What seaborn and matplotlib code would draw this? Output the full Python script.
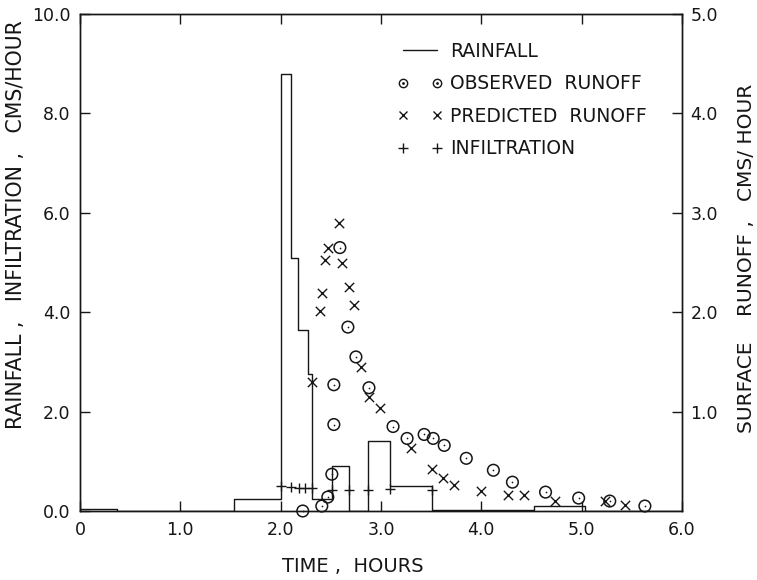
import matplotlib
matplotlib.use("Agg")
import matplotlib.pyplot as plt
import seaborn as sns
import pandas as pd
from matplotlib.lines import Line2D
from matplotlib.legend_handler import HandlerTuple

# ---- data ----
rain_t = [0, 0.37, 1.53, 2.0, 2.1, 2.17, 2.27, 2.31, 2.51, 2.68, 2.87, 3.09, 3.51, 4.52, 5.03, 6.0]
rain_v = [0.05, 0.0, 0.25, 8.8, 5.1, 3.65, 2.75, 0.25, 0.9, 0.0, 1.4, 0.5, 0.03, 0.1, 0.0, 0.0]

infil_t = [2.0, 2.1, 2.18, 2.24, 2.31, 2.51, 2.68, 2.87, 3.09, 3.51]
infil_v = [0.50, 0.48, 0.47, 0.47, 0.46, 0.43, 0.43, 0.43, 0.45, 0.43]

obs_t = [2.22, 2.41, 2.47, 2.51, 2.53, 2.53, 2.59, 2.67, 2.75, 2.88, 3.12, 3.26, 3.43,
         3.52, 3.63, 3.85, 4.12, 4.31, 4.64, 4.97, 5.28, 5.63]
obs_v = [0.0, 0.05, 0.14, 0.37, 0.87, 1.27, 2.65, 1.85, 1.55, 1.24, 0.85, 0.73, 0.77,
         0.73, 0.66, 0.53, 0.41, 0.29, 0.19, 0.13, 0.10, 0.05]

pred_t = [2.31, 2.39, 2.41, 2.44, 2.47, 2.58, 2.61, 2.68, 2.73, 2.80, 2.88, 2.99, 3.30,
          3.51, 3.62, 3.73, 4.00, 4.27, 4.43, 4.73, 5.23, 5.43]
pred_v = [1.30, 2.01, 2.19, 2.53, 2.65, 2.90, 2.50, 2.25, 2.07, 1.45, 1.15, 1.04, 0.63,
          0.42, 0.33, 0.26, 0.20, 0.16, 0.16, 0.10, 0.10, 0.06]

x_ticks = [0, 1, 2, 3, 4, 5, 6]
x_labels = ["0", "1.0", "2.0", "3.0", "4.0", "5.0", "6.0"]
yl_ticks = [0, 2, 4, 6, 8, 10]
yl_labels = ["0.0", "2.0", "4.0", "6.0", "8.0", "10.0"]
yr_ticks = [1, 2, 3, 4, 5]
yr_labels = ["1.0", "2.0", "3.0", "4.0", "5.0"]

sns.set_style("ticks")
plt.rcParams["font.family"] = ["DejaVu Sans"]

fig = plt.figure(figsize=(7.57, 5.80), dpi=100)
ax = fig.add_axes([80/757, 1-511/580, 602/757, 497/580])
ax2 = ax.twinx()

ink = "#161616"

rain_df = pd.DataFrame({"t": rain_t, "v": rain_v})
sns.lineplot(data=rain_df, x="t", y="v", ax=ax, drawstyle="steps-post",
             estimator=None, sort=False, color=ink, lw=1.0, legend=False)

inf_df = pd.DataFrame({"t": infil_t, "v": infil_v})
sns.scatterplot(data=inf_df, x="t", y="v", ax=ax, marker="+", s=55, color=ink,
                linewidth=1.0, legend=False, zorder=4)

obs_df = pd.DataFrame({"t": obs_t, "v": obs_v})
sns.scatterplot(data=obs_df, x="t", y="v", ax=ax2, marker="o", s=70,
                facecolor="none", edgecolor=ink, linewidth=1.1, legend=False,
                clip_on=False, zorder=4)
sns.scatterplot(data=obs_df, x="t", y="v", ax=ax2, marker=".", s=6, color=ink,
                linewidth=0, legend=False, clip_on=False, zorder=4)

pred_df = pd.DataFrame({"t": pred_t, "v": pred_v})
sns.scatterplot(data=pred_df, x="t", y="v", ax=ax2, marker="x", s=45, color=ink,
                linewidth=1.0, legend=False, zorder=4)

ax.set_xlim(0, 6)
ax.set_ylim(0, 10)
ax2.set_ylim(0, 5)

ax.set_xticks(x_ticks)
ax.set_xticklabels(x_labels)
ax.set_yticks(yl_ticks)
ax.set_yticklabels(yl_labels)
ax2.set_yticks(yr_ticks)
ax2.set_yticklabels(yr_labels)

for a in (ax, ax2):
    for s in a.spines.values():
        s.set_visible(True)
        s.set_linewidth(1.0)
        s.set_color(ink)

ax.tick_params(axis="x", direction="in", top=True, length=7, width=1, pad=7,
               labelsize=12.5, colors=ink)
ax.tick_params(axis="y", direction="in", right=False, length=7, width=1, pad=7,
               labelsize=12.5, colors=ink)
ax2.tick_params(axis="y", direction="in", length=7, width=1, pad=6,
                labelsize=12.5, colors=ink)

ax.set_xlabel("TIME ,  HOURS", fontsize=14, color=ink)
ax.xaxis.set_label_coords(0.453, -0.093)
ax.set_ylabel("RAINFALL ,   INFILTRATION ,   CMS/HOUR", fontsize=14.8, color=ink)
ax.yaxis.set_label_coords(-0.09, 0.577)
ax2.set_ylabel("SURFACE    RUNOFF ,   CMS/ HOUR", fontsize=14.5, color=ink)
ax2.yaxis.set_label_coords(1.091, 0.509)

h_rain = Line2D([], [], color=ink, lw=1.0)
h_obs_c = Line2D([], [], ls="none", marker="o", ms=6, mfc="none", mec=ink, mew=1.0)
h_obs_d = Line2D([], [], ls="none", marker=".", ms=2, color=ink)
h_pred = Line2D([], [], ls="none", marker="x", ms=6, color=ink, mew=1.0)
h_inf = Line2D([], [], ls="none", marker="+", ms=7, color=ink, mew=1.0)

leg = ax2.legend([h_rain, (h_obs_c, h_obs_d), h_pred, h_inf],
                 ["RAINFALL", "OBSERVED  RUNOFF", "PREDICTED  RUNOFF", "INFILTRATION"],
                 handler_map={tuple: HandlerTuple(ndivide=1)},
                 loc="upper left", bbox_to_anchor=(0.527, 0.944), frameon=False,
                 numpoints=2, fontsize=13.5, handlelength=2.4, handletextpad=0.4,
                 labelspacing=0.72, borderpad=0, borderaxespad=0)
for t in leg.get_texts():
    t.set_color(ink)

fig.savefig("out.png", dpi=100)
